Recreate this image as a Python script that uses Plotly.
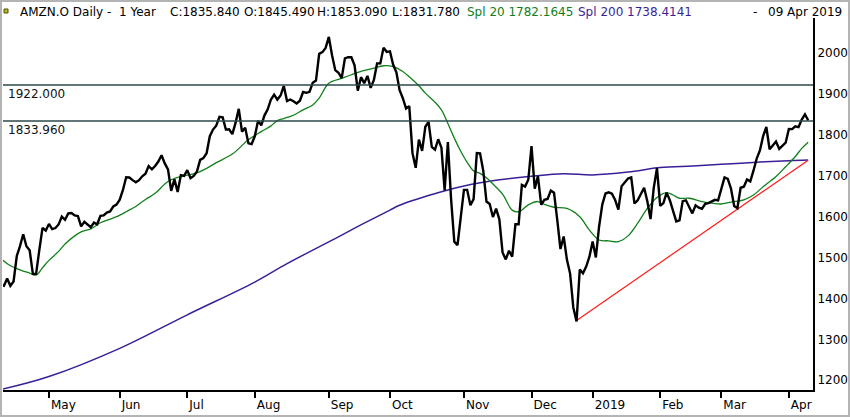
#%% Libraries
import pandas as pd
import plotly.graph_objs as go

#%% Data (Apr 2018 - Apr 2019)
# NYSE holidays inside the window, trading days are weekdays minus these
holidays = ['2018-05-28', '2018-07-04', '2018-09-03', '2018-11-22', '2018-12-05',
            '2018-12-25', '2019-01-01', '2019-01-21', '2019-02-18']
days = pd.bdate_range('2018-04-10', '2019-04-09')
days = [d.strftime('%Y-%m-%d') for d in days if d.strftime('%Y-%m-%d') not in holidays]

# daily close
close = [
    1432.56, 1430.79, 1448.50, 1430.79, 1441.50, 1503.83, 1527.84, 1556.91, 1527.49, 1517.86,
    1460.09, 1460.17, 1517.96, 1572.62, 1566.13, 1582.26, 1569.68, 1572.08, 1580.95, 1600.14,
    1592.39, 1608.00, 1609.08, 1602.91, 1601.54, 1576.12, 1587.28, 1581.76, 1574.37, 1585.46,
    1581.40, 1601.86, 1603.07, 1610.15, 1612.87, 1624.89, 1629.62, 1641.54, 1665.27, 1696.35,
    1695.75, 1689.30, 1683.99, 1689.12, 1698.75, 1704.86, 1723.86, 1715.97, 1723.79, 1734.78,
    1750.08, 1730.22, 1715.67, 1663.15, 1691.09, 1660.51, 1701.45, 1699.80, 1713.78, 1693.96,
    1699.73, 1710.63, 1739.02, 1743.07, 1755.00, 1796.62, 1813.03, 1822.49, 1843.93, 1842.92,
    1812.97, 1813.70, 1802.00, 1829.24, 1863.61, 1808.00, 1817.27, 1779.22, 1777.44, 1797.17,
    1834.33, 1823.29, 1847.75, 1862.48, 1886.52, 1898.52, 1886.30, 1896.20, 1919.65, 1882.62,
    1886.52, 1882.22, 1876.71, 1883.42, 1904.90, 1902.90, 1905.39, 1927.68, 1932.82, 1998.10,
    2002.38, 2012.71, 2039.51, 1994.82, 1958.31, 1952.07, 1939.01, 1987.15, 1990.00, 1989.87,
    1970.19, 1908.03, 1941.05, 1926.42, 1944.30, 1915.01, 1934.36, 1974.55, 1974.85, 2012.98,
    2003.00, 2004.36, 1971.31, 1952.76, 1909.42, 1889.65, 1864.42, 1870.32, 1755.25, 1719.36,
    1788.61, 1760.95, 1819.96, 1831.73, 1770.72, 1764.03, 1789.30, 1768.70, 1664.20, 1782.17,
    1642.81, 1538.88, 1530.42, 1598.01, 1665.53, 1665.53, 1627.80, 1642.81, 1755.49, 1754.91,
    1712.43, 1636.85, 1631.17, 1599.01, 1619.44, 1593.41, 1512.29, 1495.46, 1516.73, 1502.06,
    1581.33, 1581.42, 1677.75, 1673.57, 1690.17, 1772.36, 1668.40, 1699.19, 1629.13, 1641.03,
    1643.24, 1663.54, 1658.38, 1591.91, 1520.91, 1551.48, 1495.08, 1460.83, 1377.45, 1343.96,
    1470.90, 1461.64, 1478.02, 1501.97, 1539.13, 1500.28, 1575.39, 1629.51, 1656.58, 1659.42,
    1656.22, 1640.56, 1617.21, 1674.56, 1683.78, 1693.22, 1696.20, 1632.17, 1640.02, 1654.93,
    1670.57, 1637.89, 1593.88, 1670.43, 1718.73, 1626.23, 1633.31, 1658.81, 1640.26, 1614.37,
    1588.22, 1591.00, 1638.01, 1640.00, 1622.65, 1607.95, 1627.58, 1622.10, 1619.44, 1631.56,
    1633.00, 1636.40, 1641.09, 1639.83, 1671.73, 1696.17, 1692.43, 1668.95, 1625.95, 1620.80,
    1670.62, 1673.10, 1690.81, 1686.22, 1712.36, 1742.15, 1761.85, 1797.27, 1819.26, 1764.77,
    1774.26, 1783.76, 1765.70, 1773.42, 1780.75, 1814.19, 1813.98, 1820.70, 1818.86, 1837.28,
    1849.86, 1835.84]

# Spl 20 (green), read at sampled days
spl20_days = [
    '2018-04-10', '2018-04-13', '2018-04-18', '2018-04-23', '2018-04-25', '2018-04-27',
    '2018-05-01', '2018-05-04', '2018-05-08', '2018-05-11', '2018-05-15', '2018-05-18',
    '2018-05-23', '2018-05-29', '2018-05-31', '2018-06-05', '2018-06-08', '2018-06-13',
    '2018-06-18', '2018-06-22', '2018-06-28', '2018-07-06', '2018-07-11', '2018-07-16',
    '2018-07-23', '2018-07-30', '2018-08-03', '2018-08-08', '2018-08-10', '2018-08-14',
    '2018-08-17', '2018-08-22', '2018-08-27', '2018-08-29', '2018-09-04', '2018-09-10',
    '2018-09-13', '2018-09-18', '2018-09-24', '2018-09-27', '2018-10-02', '2018-10-05',
    '2018-10-09', '2018-10-12', '2018-10-16', '2018-10-19', '2018-10-23', '2018-10-25',
    '2018-10-29', '2018-10-31', '2018-11-02', '2018-11-06', '2018-11-08', '2018-11-12',
    '2018-11-14', '2018-11-19', '2018-11-23', '2018-11-27', '2018-11-30', '2018-12-06',
    '2018-12-10', '2018-12-13', '2018-12-19', '2018-12-26', '2018-12-31', '2019-01-04',
    '2019-01-09', '2019-01-14', '2019-01-17', '2019-01-23', '2019-01-28', '2019-01-31',
    '2019-02-05', '2019-02-07', '2019-02-11', '2019-02-14', '2019-02-21', '2019-02-26',
    '2019-03-01', '2019-03-07', '2019-03-12', '2019-03-15', '2019-03-20', '2019-03-26',
    '2019-03-29', '2019-04-03', '2019-04-05', '2019-04-09']
spl20 = [
    1498, 1480, 1470, 1462, 1457, 1475,
    1493, 1515, 1533, 1553, 1563, 1570,
    1585, 1594, 1600, 1612, 1625, 1642,
    1657, 1686, 1698, 1707, 1718, 1732,
    1753, 1788, 1808, 1822, 1835, 1840,
    1848, 1861, 1873, 1890, 1926, 1938,
    1947, 1955, 1963, 1969, 1967, 1955,
    1942, 1920, 1902, 1880, 1861, 1828,
    1792, 1760, 1733, 1712, 1706, 1695,
    1680, 1655, 1616, 1612, 1629, 1637,
    1630, 1623, 1620, 1600, 1567, 1543,
    1541, 1539, 1553, 1584, 1620, 1647,
    1659, 1653, 1645, 1645, 1637, 1633,
    1631, 1637, 1641, 1653, 1673, 1698,
    1722, 1747, 1767, 1782.16]

# Spl 200 (purple), read at sampled days
spl200_days = [
    '2018-04-10', '2018-05-01', '2018-06-01', '2018-07-02', '2018-08-01', '2018-08-15',
    '2018-09-10', '2018-09-19', '2018-10-01', '2018-10-04', '2018-10-23', '2018-11-01',
    '2018-11-16', '2018-12-03', '2018-12-18', '2019-01-02', '2019-01-17', '2019-02-01',
    '2019-02-15', '2019-03-01', '2019-03-18', '2019-04-01', '2019-04-09']
spl200 = [
    1177, 1209, 1278, 1360, 1440, 1485,
    1555, 1584, 1616, 1628, 1661, 1675,
    1690, 1699, 1705, 1702, 1709, 1720,
    1724, 1728, 1733, 1737, 1738.41]

# red trend line from the December low
trend_days = ['2018-12-24', '2019-04-09']
trend_vals = [1346, 1738]

# horizontal levels
levels = [1922.000, 1833.960]

# x axis: first trading day of each month
month_days = ['2018-05-01', '2018-06-01', '2018-07-02', '2018-08-01', '2018-09-04', '2018-10-01',
              '2018-11-01', '2018-12-03', '2019-01-02', '2019-02-01', '2019-03-01', '2019-04-01']
month_labels = ['May', 'Jun', 'Jul', 'Aug', 'Sep', 'Oct', 'Nov', 'Dec', '2019', 'Feb', 'Mar', 'Apr']
price_ticks = [1200, 1300, 1400, 1500, 1600, 1700, 1800, 1900, 2000]

#%% Plot
FONT = 'DejaVu Sans'
W, H = 850, 417
ML, MR, MT, MB = 3, 37, 18, 27
PW, PH = W - ML - MR, H - MT - MB

def px(x):  # figure pixel -> paper x
    return (x - ML) / PW

def py(y):  # figure pixel -> paper y
    return (H - MB - y) / PH

fig = go.Figure()
fig.add_trace(go.Scatter(x=spl200_days, y=spl200, mode='lines', line_shape='spline',
                         line=dict(color='#3a1f98', width=1.5), hoverinfo='skip'))
fig.add_trace(go.Scatter(x=spl20_days, y=spl20, mode='lines', line_shape='spline',
                         line=dict(color='#11801a', width=1.3), hoverinfo='skip'))
fig.add_trace(go.Scatter(x=trend_days, y=trend_vals, mode='lines',
                         line=dict(color='#ff1a1a', width=1.2), hoverinfo='skip'))
fig.add_trace(go.Scatter(x=days, y=close, mode='lines',
                         line=dict(color='black', width=2.4)))

for lv in levels:
    fig.add_shape(type='line', xref='paper', yref='y', x0=0, x1=1, y0=lv, y1=lv,
                  line=dict(color='#2d4848', width=1.5))
    fig.add_annotation(xref='paper', yref='y', x=px(6), y=lv, text='%.3f' % lv,
                       showarrow=False, xanchor='left', yanchor='top', yshift=0,
                       font=dict(family=FONT, size=12, color='#111'))

# header texts
header = [('AMZN.O Daily -  1 Year', 18, 'black'),
          ('C:1835.840', 168, 'black'), ('O:1845.490', 242, 'black'),
          ('H:1853.090', 315, 'black'), ('L:1831.780', 390, 'black'),
          ('Spl 20 1782.1645', 465, '#11801a'), ('Spl 200 1738.4141', 576, '#3a1f98'),
          ('-', 751, 'black'), ('09 Apr 2019', 766, 'black')]
for txt, x, col in header:
    fig.add_annotation(xref='paper', yref='paper', x=px(x), y=py(12), text=txt,
                       showarrow=False, xanchor='left', yanchor='middle',
                       font=dict(family=FONT, size=12, color=col))

# window frame and little header icon
fig.add_shape(type='rect', xref='paper', yref='paper', x0=px(1), x1=px(849), y0=py(416), y1=py(1),
              line=dict(color='#b4b4b4', width=2))
fig.add_shape(type='rect', xref='paper', yref='paper', x0=px(4), x1=px(8), y0=py(13), y1=py(9),
              line=dict(color='#555500', width=1), fillcolor='#b8b830')

fig.update_layout(
    width=W, height=H,
    margin=dict(l=ML, r=MR, t=MT, b=MB, pad=0, autoexpand=False),
    paper_bgcolor='white', plot_bgcolor='white',
    showlegend=False,
    font=dict(family=FONT, size=12, color='black'),
    xaxis=dict(type='category', categoryorder='array', categoryarray=days,
               range=[0.715, 252.5], tickmode='array',
               tickvals=month_days, ticktext=month_labels, tickangle=0,
               ticks='outside', ticklen=6, tickwidth=2, tickcolor='black',
               ticklabelposition='outside right', ticklabelstandoff=3, automargin=False,
               showline=True, linecolor='black', linewidth=2,
               showgrid=False, zeroline=False, fixedrange=True),
    yaxis=dict(side='right', range=[1176.1, 2085.8], tickmode='array', tickvals=price_ticks,
               showline=True, linecolor='black', linewidth=2, ticks='', automargin=False,
               showgrid=False, zeroline=False, fixedrange=True),
)

# the page's default body margin would push the figure off its 850x417 frame
fig.write_html('out.html', config={'displayModeBar': False},
               post_script="document.body.style.margin='0';")
